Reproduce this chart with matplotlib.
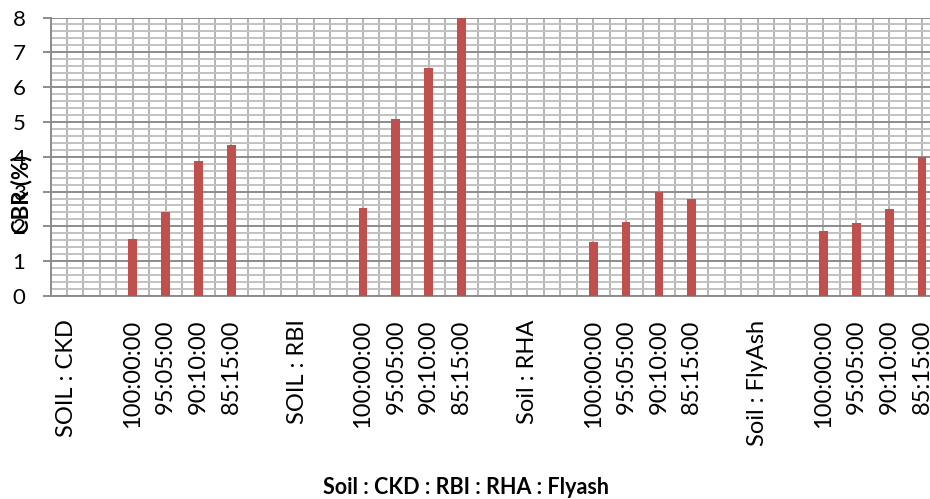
import numpy as np
import matplotlib.pyplot as plt
from matplotlib.ticker import MultipleLocator

plt.rcParams['font.family'] = ['Lato', 'DejaVu Sans']

# Category labels along the x axis (blank entries are spacer slots)
categories = ["SOIL : CKD", "", "100:00:00", "95:05:00", "90:10:00", "85:15:00", "",
              "SOIL : RBI", "", "100:00:00", "95:05:00", "90:10:00", "85:15:00", "",
              "Soil : RHA", "", "100:00:00", "95:05:00", "90:10:00", "85:15:00", "",
              "Soil : FlyAsh", "", "100:00:00", "95:05:00", "90:10:00", "85:15:00"]

# CBR values (%), nan where no bar is drawn
cbr = [np.nan, np.nan, 1.64, 2.41, 3.88, 4.34, np.nan,
       np.nan, np.nan, 2.53, 5.09, 6.55, 8.00, np.nan,
       np.nan, np.nan, 1.55, 2.13, 2.99, 2.79, np.nan,
       np.nan, np.nan, 1.87, 2.10, 2.50, 3.99]

fig = plt.figure(figsize=(9.3, 4.99), dpi=100)
# axes runs past the right edge of the figure, as in the original
ax = fig.add_axes([50.5 / 930, 203 / 499, 888 / 930, 278.5 / 499])

x = np.arange(len(categories))
ax.bar(x, cbr, width=0.27, color='#C0504D', zorder=3)

ax.set_xlim(-0.5, len(categories) - 0.5)
ax.set_ylim(0, 8)

# grid: vertical lines at slot centres and boundaries, fine horizontal grid
ax.set_xticks(x)
ax.set_xticks(x[:-1] + 0.5, minor=True)
ax.yaxis.set_major_locator(MultipleLocator(1))
ax.yaxis.set_minor_locator(MultipleLocator(0.2))
ax.grid(axis='x', which='both', color='#b4b4b4', linewidth=1.4)
ax.grid(axis='y', which='minor', color='#c2c2c2', linewidth=1.4)
ax.grid(axis='y', which='major', color='#8c8c8c', linewidth=1.4)
ax.set_axisbelow(True)

ax.set_xticklabels(categories, rotation=90, va='top', ha='center', fontsize=17)
ax.tick_params(axis='x', which='both', length=0, pad=17)
ax.tick_params(axis='y', which='major', length=6, width=1.4, color='#8c8c8c',
               labelsize=16, pad=12)
ax.tick_params(axis='y', which='minor', length=0)

for side in ['top', 'right']:
    ax.spines[side].set_visible(False)
for side in ['left', 'bottom']:
    ax.spines[side].set_color('#8c8c8c')
    ax.spines[side].set_linewidth(1.4)

fig.text(22 / 930, 1 - 194 / 499, 'CBR (%)', rotation=90, ha='center', va='center',
         fontsize=16, fontweight='bold')
fig.text(466 / 930, 1 - 488 / 499, 'Soil : CKD : RBI : RHA : Flyash', ha='center',
         va='center', fontsize=15.5, fontweight='bold')

fig.savefig('out.png', dpi=100)
